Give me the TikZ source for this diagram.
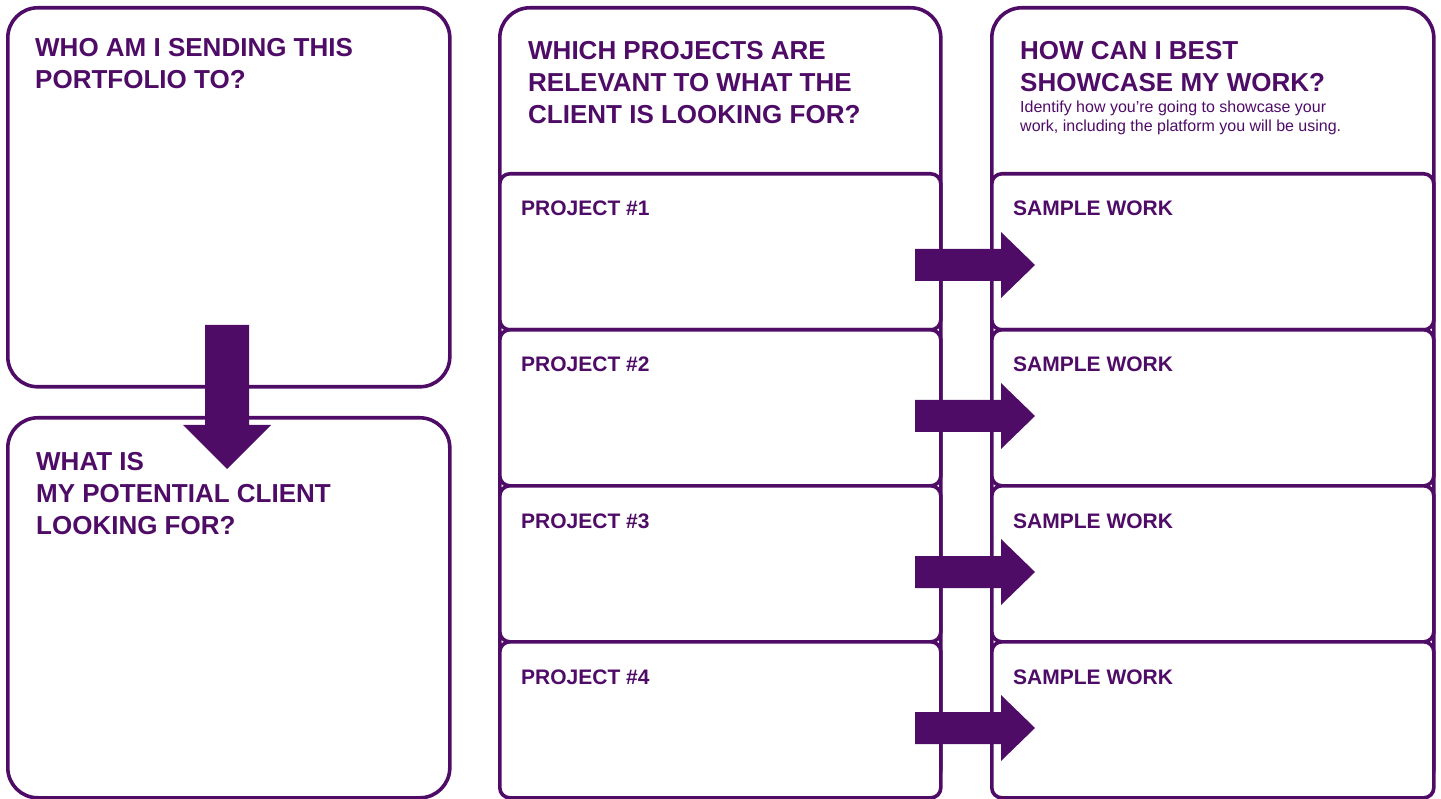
\documentclass[tikz,border=0pt]{standalone}
\usepackage{fontspec}
\setmainfont{Liberation Sans}
\definecolor{grape}{HTML}{4F0C67}

\tikzset{
    panel/.style={draw=grape, line width=3.6pt, rounded corners=30pt, inner sep=0pt, anchor=north west},
    slot/.style={panel, fill=white, rounded corners=10pt},
    heading/.style={anchor=base west, align=left, inner sep=0pt, text=grape, font=\fontsize{26}{32}\selectfont\bfseries},
    hint/.style={anchor=base west, align=left, inner sep=0pt, text=grape, font=\fontsize{16}{19}\selectfont},
    slotlabel/.style={anchor=base west, inner sep=0pt, text=grape, font=\fontsize{21}{24}\selectfont\bfseries},
}

\begin{document}
\begin{tikzpicture}[x=1pt, y=-1pt]
    \useasboundingbox (0,0) rectangle (1441,799);

    % Big panels
    \node[panel, minimum width=442pt, minimum height=379pt] (sender) at (6,6) {};
    \node[panel, minimum width=442pt, minimum height=380pt] (needs) at (6,416) {};
    \node[panel, minimum width=441pt, minimum height=790pt] (projects) at (498,6) {};
    \node[panel, minimum width=442pt, minimum height=790pt] (showcase) at (990,6) {};

    % Stacked slots
    \foreach \i [evaluate=\i as \y using 172+156*(\i-1)] in {1,...,4} {
        \node[slot, minimum width=441pt, minimum height=156pt] (project\i) at (498,\y) {};
        \node[slot, minimum width=442pt, minimum height=156pt] (sample\i) at (990,\y) {};
        \node[slotlabel, xshift=23pt, yshift=-44pt] (projectlabel\i) at (project\i.north west) {PROJECT \#\i};
        \node[slotlabel, xshift=23pt, yshift=-44pt] (samplelabel\i) at (sample\i.north west) {SAMPLE WORK};
    }

    % Headings (anchored on the last line)
    \node[heading] (senderhead) at (35,89) {WHO AM I SENDING THIS\\PORTFOLIO TO?};
    \node[heading] (needshead) at (36,534) {WHAT IS\\MY POTENTIAL CLIENT\\LOOKING FOR?};
    \node[heading] (projectshead) at (528,124) {WHICH PROJECTS ARE\\RELEVANT TO WHAT THE\\CLIENT IS LOOKING FOR?};
    \node[heading] (showcasehead) at (1020,92) {HOW CAN I BEST\\SHOWCASE MY WORK?};
    \node[hint] (showcasehint) at (1020,132) {Identify how you’re going to showcase your\\work, including the platform you will be using.};

    % Block arrows
    \fill[grape, shift={(227,325)}] (-22,0) -- (22,0) -- (22,100) -- (44,100) -- (0,144) -- (-44,100) -- (-22,100) -- cycle;
    \foreach \y in {265,416,572,728}
        \fill[grape, shift={(915,\y)}] (0,-16) -- (86,-16) -- (86,-33) -- (120,0) -- (86,33) -- (86,16) -- (0,16) -- cycle;
\end{tikzpicture}
\end{document}
